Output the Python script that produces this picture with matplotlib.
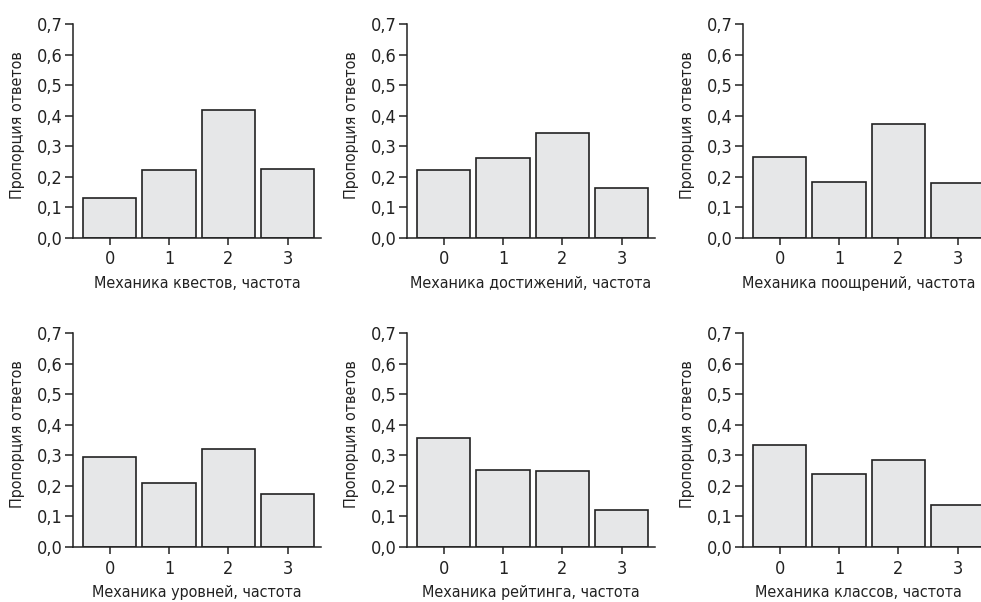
import matplotlib
matplotlib.use("Agg")
import matplotlib.pyplot as plt
import numpy as np

plt.rcParams['font.family'] = ['DejaVu Sans']
plt.rcParams['font.stretch'] = 'condensed'

categories = [0, 1, 2, 3]
quests = [0.131, 0.224, 0.420, 0.226]
achievements = [0.224, 0.261, 0.342, 0.164]
rewards = [0.266, 0.183, 0.373, 0.181]
levels = [0.296, 0.209, 0.321, 0.172]
rating = [0.357, 0.251, 0.248, 0.122]
classes = [0.333, 0.240, 0.285, 0.138]

xlabels = ['Механика квестов, частота', 'Механика достижений, частота',
           'Механика поощрений, частота', 'Механика уровней, частота',
           'Механика рейтинга, частота', 'Механика классов, частота']
series = [quests, achievements, rewards, levels, rating, classes]
yticks = [0.0, 0.1, 0.2, 0.3, 0.4, 0.5, 0.6, 0.7]
ytick_labels = ['0,0', '0,1', '0,2', '0,3', '0,4', '0,5', '0,6', '0,7']

W, H = 981, 602
fig = plt.figure(figsize=(W / 100, H / 100), dpi=100)

lefts = [73, 407, 743]
tops = [24, 333]
ax_w = 248
ax_h = 214
# the right column runs off the page edge, keep its label inside
label_x = [0.5, 0.5, 0.465]

edge = '#222222'
for i, vals in enumerate(series):
    r, c = divmod(i, 3)
    ax = fig.add_axes([lefts[c] / W, 1 - (tops[r] + ax_h) / H, ax_w / W, ax_h / H])
    ax.bar(categories, vals, width=0.9, color='#e6e7e8', edgecolor=edge, linewidth=1.2)
    ax.set_xlim(-0.62, 3.56)
    ax.set_ylim(0, 0.7)
    ax.set_xticks(categories)
    ax.set_xticklabels([str(x) for x in categories])
    ax.set_yticks(yticks)
    ax.set_yticklabels(ytick_labels)
    for s in ['top', 'right']:
        ax.spines[s].set_visible(False)
    for s in ['left', 'bottom']:
        ax.spines[s].set_color(edge)
        ax.spines[s].set_linewidth(1.1)
    ax.tick_params(axis='y', length=6, width=1.1, color=edge, labelsize=13, pad=1.5)
    ax.tick_params(axis='x', length=5, width=1.1, color=edge, labelsize=13, pad=4)
    ax.set_xlabel(xlabels[i], fontsize=11.5, color='#222222')
    ax.xaxis.set_label_coords(label_x[c], -0.177)
    ax.xaxis.label.set_va('top')
    ax.set_ylabel('Пропорция ответов', fontsize=11.5, color='#222222')
    ax.yaxis.set_label_coords(-0.195, 0.53)
    for t in ax.get_xticklabels() + ax.get_yticklabels():
        t.set_color('#222222')

fig.savefig('out.png', dpi=100)
